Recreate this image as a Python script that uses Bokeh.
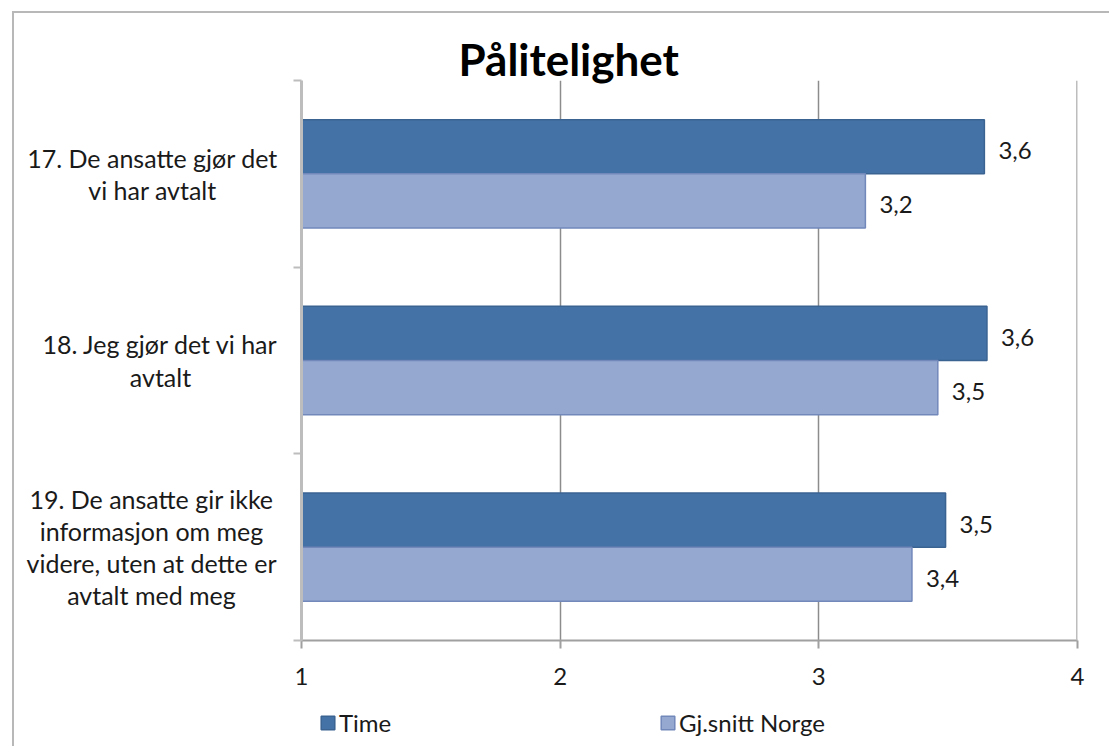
from bokeh.plotting import figure
from bokeh.models import (ColumnDataSource, Range1d, FixedTicker, LabelSet,
                          Legend, LegendItem, Span)
from bokeh.layouts import row, column
from bokeh.core.properties import value
from bokeh.transform import dodge
from bokeh.embed import file_html
from bokeh.resources import INLINE

# ---- data ----
title_text = "Pålitelighet"
categories = [
    "17. De ansatte gjør det\nvi har avtalt",
    "18. Jeg gjør det vi har\navtalt",
    "19. De ansatte gir ikke\ninformasjon om meg\nvidere, uten at dette er\navtalt med meg",
]
time_vals = [3.64, 3.65, 3.49]
norge_vals = [3.18, 3.46, 3.36]
series_names = ["Time", "Gj.snitt Norge"]
x_ticks = [1, 2, 3, 4]

# ---- layout constants ----
W, H = 1109, 746
MAIN_H = 700
LEG_H = H - MAIN_H
LBL_W = 285
label_centers = [152, 160, 151]
FONT = "Lato"
TXT = "#1a1a1a"
BORDER = "#b8b8b8"
C_TIME, E_TIME = "#4472A6", "#3A6392"
C_NOR, E_NOR = "#95A9D0", "#7288BA"

n = len(categories)
ypos = [n - i - 0.5 for i in range(n)]
fmt = lambda v: f"{v:.1f}".replace(".", ",")

src = ColumnDataSource(dict(
    y=ypos, cat=categories, time=time_vals, norge=norge_vals,
    time_lbl=[fmt(v) for v in time_vals], norge_lbl=[fmt(v) for v in norge_vals],
    xc=label_centers, base=[x_ticks[0]] * n,
))

yr = Range1d(0, n)
off = 0.145
h = 0.29

# ---- main chart ----
p = figure(width=W - LBL_W, height=MAIN_H, output_backend="svg", toolbar_location=None,
           x_range=Range1d(x_ticks[0], x_ticks[-1]), y_range=yr, title=title_text,
           min_border_left=301 - LBL_W, min_border_right=32, min_border_top=80,
           min_border_bottom=MAIN_H - 640)
p.outline_line_color = None
p.background_fill_color = None
p.border_fill_color = None

p.title.align = "left"
p.title.offset = 157
p.title.standoff = -9
p.title.text_font = FONT
p.title.text_font_style = "bold"
p.title.text_font_size = "44px"
p.title.text_color = "black"

r_time = p.hbar(y=dodge("y", off), left="base", right="time", height=h, source=src,
                fill_color=C_TIME, line_color=E_TIME, line_width=1.5)
r_norge = p.hbar(y=dodge("y", -off), left="base", right="norge", height=h, source=src,
                 fill_color=C_NOR, line_color=E_NOR, line_width=1.5)

xa = p.xaxis[0]
xa.ticker = FixedTicker(ticks=x_ticks)
xa.axis_line_color = "#a0a0a0"
xa.axis_line_width = 2
xa.major_tick_line_color = "#a0a0a0"
xa.major_tick_line_width = 2
xa.major_tick_out = 8
xa.major_tick_in = 0
xa.minor_tick_line_color = None
xa.major_label_text_font = FONT
xa.major_label_text_font_size = "24px"
xa.major_label_text_color = TXT
xa.major_label_standoff = 19

ya = p.yaxis[0]
ya.ticker = FixedTicker(ticks=list(range(n + 1)))
ya.major_label_overrides = {i: "" for i in range(n + 1)}
ya.major_label_standoff = 0
ya.axis_line_color = "#bdbdbd"
ya.axis_line_width = 3
ya.major_tick_line_color = "#bdbdbd"
ya.major_tick_line_width = 2
ya.major_tick_out = 8
ya.major_tick_in = 0
ya.minor_tick_line_color = None

p.ygrid.grid_line_color = None
p.xgrid.ticker = FixedTicker(ticks=x_ticks[1:-1])
p.xgrid.grid_line_color = "#8c8c8c"
p.xgrid.grid_line_width = 1.5
p.add_layout(Span(location=x_ticks[-1], dimension="height", line_color="#bdbdbd", line_width=3))

for col, lbl, o in (("time", "time_lbl", off), ("norge", "norge_lbl", -off)):
    p.add_layout(LabelSet(x=col, y=dodge("y", o), text=lbl, source=src, x_offset=14,
                          y_offset=-4, text_baseline="middle", text_align="left",
                          text_font=value(FONT), text_font_size="24px", text_color=TXT))

# ---- category labels panel ----
lp = figure(width=LBL_W, height=MAIN_H, output_backend="svg", toolbar_location=None,
            x_range=Range1d(0, LBL_W), y_range=yr, x_axis_type=None, y_axis_type=None,
            min_border_left=0, min_border_right=0, min_border_top=80,
            min_border_bottom=MAIN_H - 640)
lp.outline_line_color = None
lp.background_fill_color = None
lp.border_fill_color = None
lp.text(x="xc", y="y", text="cat", source=src, text_align="center", text_baseline="middle",
        text_font=value(FONT), text_font_size="25px", text_color=TXT, text_line_height=1.07)

# ---- legend strip (key glyphs come from hidden copies of the two series) ----
lf = figure(width=W, height=LEG_H, output_backend="svg", toolbar_location=None,
            x_range=Range1d(0, W), y_range=Range1d(0, LEG_H), x_axis_type=None,
            y_axis_type=None, min_border=0)
lf.outline_line_color = None
lf.background_fill_color = None
lf.border_fill_color = None
k_time = lf.hbar(y="y", left="base", right="time", height=h, source=src,
                 fill_color=C_TIME, line_color=E_TIME, line_width=1.5, visible=False)
k_nor = lf.hbar(y="y", left="base", right="norge", height=h, source=src,
                fill_color=C_NOR, line_color=E_NOR, line_width=1.5, visible=False)
legend = Legend(items=[LegendItem(label=series_names[0], renderers=[k_time]),
                       LegendItem(label=series_names[1], renderers=[k_nor])],
                location=(319, 9), orientation="horizontal", padding=0, margin=0,
                spacing=1, border_line_color=None, background_fill_alpha=0,
                inactive_fill_alpha=0,
                glyph_width=17, glyph_height=17, label_standoff=3, label_width=319,
                label_height=30,
                label_text_font=FONT, label_text_font_size="24px", label_text_color=TXT)
lf.add_layout(legend)

bg = (f"linear-gradient({BORDER},{BORDER}) 12px 11px / 2px 100% no-repeat, "
      f"linear-gradient({BORDER},{BORDER}) 12px 11px / 100% 2px no-repeat, #ffffff")
layout = column(row(lp, p, spacing=0), lf, spacing=0, styles={"background": bg})

open("out.html", "w").write(file_html(layout, INLINE))
